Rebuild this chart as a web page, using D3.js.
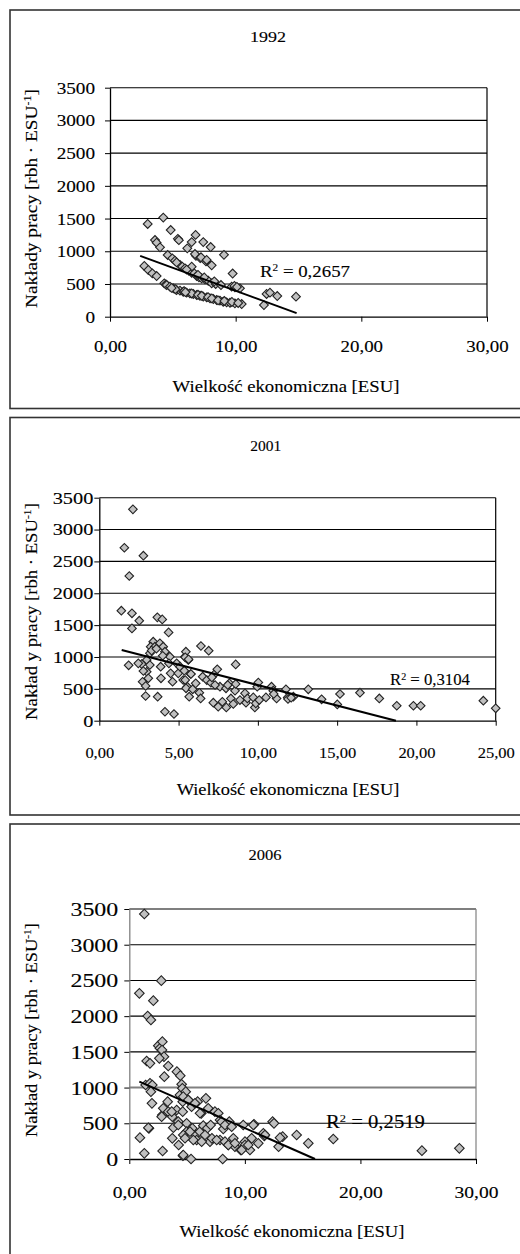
<!DOCTYPE html>
<html>
<head>
<meta charset="utf-8">
<script src="https://cdn.jsdelivr.net/npm/d3@7"></script>
<style>
  body { margin: 0; background: #fff; }
  svg text { font-family: "Times New Roman", "Liberation Serif", "DejaVu Serif", serif; fill: #000; stroke: #000; stroke-width: 0.12px; }
</style>
</head>
<body>
<div id="chart"></div>
<script>
// ---- data ----
var years = ["1992", "2001", "2006"];
var r2Values = ["0,2657", "0,3104", "0,2519"];
var yTicks = [0, 500, 1000, 1500, 2000, 2500, 3000, 3500];
var xTicks1992 = [0, 10, 20, 30];
var xTicks2001 = [0, 5, 10, 15, 20, 25];
var xTicks2006 = [0, 10, 20, 30];

var pts1992 = [
  [3.0,1417],[4.24,1515],[4.83,1325],[5.40,1190],[5.48,1170],[6.15,1045],[6.50,1140],[6.81,1250],
  [7.42,1140],[8.01,1065],[9.07,945],[9.76,660],[6.84,930],[7.18,895],[7.64,845],[8.09,785],
  [6.76,958],[7.24,908],[7.69,867],
  [3.58,1172],[3.71,1131],[3.98,1060],[4.59,943],[4.96,892],[5.17,856],[5.57,790],[5.75,764],
  [5.97,739],[6.28,703],[6.5,672],[6.71,663],[6.9,622],[7.08,602],[7.29,587],[7.56,571],[7.82,550],
  [8.09,510],[8.41,500],[8.83,484],[9.68,459],[9.94,449],[10.34,434],[6.5,764],[5.3,830],[6.1,720],
  [7.0,640],[7.5,600],[8.3,540],[9.9,470],[10.1,455],
  [2.73,775],[3.05,714],[3.37,663],[3.71,622],[4.32,510],[4.45,495],[4.51,484],[4.77,459],[5.04,434],
  [5.3,408],[5.57,398],[5.83,382],[6.1,367],[6.36,357],[6.63,347],[6.9,332],[7.16,321],[7.42,306],
  [7.69,296],[7.96,281],[8.22,270],[8.49,255],[8.75,245],[9.01,229],[9.28,220],[9.55,214],[9.94,204],
  [10.48,194],[5.2,420],[5.9,390],[6.5,355],[7.0,335],[7.3,320],[7.8,300],[8.1,280],[8.6,250],
  [9.1,240],[9.7,225],[10.2,210],[4.9,440],[6.0,375],
  [12.25,178],[12.46,347],[12.73,367],[13.31,316],[14.8,306]
];
var trend1992 = [[2.4,930],[14.85,55]];

var pts2001 = [
  [2.12,3317],[1.58,2715],[2.78,2590],[1.89,2271],[1.39,1727],[2.06,1685],[2.06,1449],[2.52,1570],
  [3.66,1622],[3.97,1590],[4.37,1386],[1.85,869],
  [3.40,1240],[3.24,1162],[3.51,1162],[3.82,1215],[4.03,1162],[4.14,1083],[3.19,1058],[2.99,953],
  [2.67,890],[2.46,900],[3.19,874],[2.99,769],[2.73,612],[3.09,665],[2.92,388],[3.68,377],[3.87,848],
  [3.89,665],[4.45,1005],[4.39,900],[4.5,743],[4.62,612],[4.88,900],[4.98,743],[5.09,848],[5.4,1005],
  [5.46,1083],[5.61,953],[5.29,639],[5.55,534],[5.67,377],[5.76,733],
  [2.92,544],[2.78,780],[3.3,1100],[3.6,1130],[4.14,141],[4.71,105],[4.0,1020],
  [5.42,994],[5.63,963],[5.36,785],[5.78,733],[5.42,638],[5.47,508],[5.89,492],[6.41,1172],[6.9,1099],
  [6.08,586],[6.31,439],[6.39,350],[6.52,691],[6.78,638],[7.04,596],[7.25,727],[7.44,806],[7.19,283],
  [7.5,220],[7.61,534],[7.76,298],[8.01,209],[7.99,508],[8.2,586],[8.3,350],[8.45,262],[8.56,471],
  [8.6,576],[8.6,884],[8.87,324],[9.19,429],[9.25,283],[9.34,350],[9.71,366],[9.81,209],[9.87,272],
  [9.96,534],[10.03,600],[10.09,324],[10.51,366],[10.86,534],[10.97,471],[11.18,350],[11.77,492],
  [11.88,366],[12.24,377],[13.18,492],[14.02,335],[15.01,256],[15.18,419],[16.44,440],[17.66,350],
  [18.76,235],[19.81,235],[20.27,235],[24.22,314],[25.0,194],
  [7.1,680],[7.3,560],[8.1,560],[11.0,420],[11.9,340],[12.1,360]
];
var trend2001 = [[1.41,1109],[18.71,0]];

var pts2006 = [
  [1.30,3430],[0.87,2319],[2.77,2497],[2.08,2217],[1.59,2002],[1.87,1946],[2.51,1587],[2.65,1549],
  [2.86,1643],[2.83,1526],[3.0,1433],[2.6,1409],[1.5,1372],[1.79,1339],[3.37,1302],[4.12,1223],
  [4.41,1167],[4.53,1045],[3.03,1153],[1.41,1036],[1.79,1059],[1.99,1036],[1.87,943],[1.96,779],
  [0.92,299],[1.30,79],[1.70,429],[2.88,112],[2.86,616],[2.94,709],[3.32,803],[3.37,663],[3.72,593],
  [3.81,439],[3.72,289],[4.1,686],[4.24,523],[4.27,196],[4.38,896],[4.59,989],[4.62,803],[4.62,663],
  [4.64,47],[4.88,943],[4.96,499],[4.96,383],[5.11,826],[5.34,0],[5.39,733],[5.45,429],[5.74,336],
  [5.83,266],[5.91,803],[6.11,383],[6.23,639],[6.4,467],[6.63,849],[6.75,429],[6.98,243],[7.15,289],
  [7.04,476],[7.41,663],[7.7,640],[7.85,546],[7.85,266],[8.08,0],[8.13,420],[8.28,243],[8.65,523],
  [8.57,196],[9.0,289],[9.14,173],[9.63,126],[9.86,476],[10.01,243],[10.01,196],[10.44,126],[10.59,289],
  [10.79,485],[11.16,219],[11.6,359],[11.68,322],[12.4,523],[12.52,499],[12.92,173],[13.27,313],
  [14.48,336],[15.49,219],[17.65,280],[25.32,117],[28.56,149],
  [1.65,438],[4.67,873],[5.1,826],[5.68,780],[6.12,640],[6.83,710],[7.99,523],[8.28,476],[8.86,453],
  [10.73,476],[13.04,299],[3.67,663],[2.8,593],[4.24,476],[4.67,336],[4.82,290],[5.25,383],[5.54,266],
  [6.26,243],[6.55,336],[7.56,266],[8.56,196],[9.14,220],[9.72,126],[10.29,196],[11.74,336],[4.67,56]
];
var trend2006 = [[0.87,1083],[16.07,0]];

// ---- layout ----
var W = 520, H = 1254;
var panels = [
  { year: years[0], r2: r2Values[0], pts: pts1992, trend: trend1992, xTicks: xTicks1992, xMax: 30,
    frame: [10, 408.5], l: 110, r: 487, t: 87.7, b: 316.7, mark: 4.4,
    title: [268, 41.7, 15, 36], xTitle: [286, 391.7, 16, 227], yTitle: [37, 198.5, 17, 219, "Nakłady pracy [rbh · ESU"],
    r2Pos: [260, 276.7, 17, 90], xLab: [35, 16, 1.18], yLab: [15, 16, 1.2],
    gridCol: "#000", axisCol: "#000", rightCol: "#000", grayGrid: -1 },
  { year: years[1], r2: r2Values[1], pts: pts2001, trend: trend2001, xTicks: xTicks2001, xMax: 25,
    frame: [417.5, 815], l: 99.3, r: 495.7, t: 497.7, b: 720.7, mark: 4.3,
    title: [265.7, 450.7, 15, 31], xTitle: [288, 795, 16, 223], yTitle: [37, 611.5, 17, 217, "Nakład y pracy [rbh · ESU"],
    r2Pos: [390, 685, 16, 80], xLab: [37, 15, 1.1], yLab: [6, 16, 1.27],
    gridCol: "#000", axisCol: "#000", rightCol: "#000", grayGrid: -1 },
  { year: years[2], r2: r2Values[2], pts: pts2006, trend: trend2006, xTicks: xTicks2006, xMax: 30,
    frame: [824, 1300], l: 129.3, r: 476, t: 909, b: 1159, mark: 4.8,
    title: [265, 860, 15, 33], xTitle: [292, 1236.7, 16, 225], yTitle: [37, 1030, 17, 214, "Nakład y pracy [rbh · ESU"],
    r2Pos: [326, 1128.3, 19, 99], xLab: [39, 16, 1.22], yLab: [11, 19, 1.26],
    gridCol: "#000", axisCol: "#808080", rightCol: "#808080", grayGrid: 1000 }
];

var svg = d3.select("#chart").append("svg").attr("width", W).attr("height", H);

var fmtX = function (d) { return d.toFixed(2).replace(".", ","); };
var fmtY = d3.format("d");

// stretch a text horizontally so its width matches the picture
function fit(t, x, y, size, w, rot) {
  t.style("font-size", size + "px");
  var n = t.node().getComputedTextLength();
  var sx = w / n;
  t.attr("transform", "translate(" + x + "," + y + ")" + (rot ? " rotate(" + rot + ")" : "") + " scale(" + sx + ",1)");
  return t;
}

panels.forEach(function (p) {
  var g = svg.append("g");

  g.append("rect")
    .attr("x", 10).attr("y", p.frame[0])
    .attr("width", 560).attr("height", p.frame[1] - p.frame[0])
    .attr("fill", "none").attr("stroke", "#333").attr("stroke-width", 1.6);

  var x = d3.scaleLinear().domain([0, p.xMax]).range([p.l, p.r]);
  var y = d3.scaleLinear().domain([0, 3500]).range([p.b, p.t]);

  // gridlines
  g.selectAll(".grid").data(yTicks.filter(function (d) { return d > 0; })).enter()
    .append("line")
    .attr("x1", p.l).attr("x2", p.r)
    .attr("y1", function (d) { return y(d); }).attr("y2", function (d) { return y(d); })
    .attr("stroke", function (d) { return d === p.grayGrid ? "#808080" : p.gridCol; })
    .attr("stroke-width", function (d) { return d === p.grayGrid ? 2 : 1.1; });

  g.append("line")
    .attr("x1", p.r).attr("x2", p.r).attr("y1", p.t).attr("y2", p.b)
    .attr("stroke", p.rightCol).attr("stroke-width", 1.2);

  // x axis
  var xa = g.append("g").attr("transform", "translate(0," + p.b + ")")
    .call(d3.axisBottom(x).tickValues(p.xTicks).tickSize(5).tickSizeOuter(0).tickFormat(fmtX));
  xa.attr("font-family", null).attr("font-size", null);
  xa.select(".domain").attr("stroke", "#000").attr("stroke-width", 1.3);
  xa.selectAll("line").attr("stroke", "#000");
  xa.selectAll("text")
    .attr("y", 0).attr("dy", 0)
    .style("font-size", p.xLab[1] + "px")
    .attr("transform", "translate(0," + p.xLab[0] + ") scale(" + p.xLab[2] + ",1)");

  // y axis
  var ya = g.append("g").attr("transform", "translate(" + p.l + ",0)")
    .call(d3.axisLeft(y).tickValues(yTicks).tickSize(5).tickSizeOuter(0).tickFormat(fmtY));
  ya.attr("font-family", null).attr("font-size", null);
  ya.select(".domain").attr("stroke", p.axisCol).attr("stroke-width", 1.3);
  ya.selectAll("line").attr("stroke", "#000");
  ya.selectAll("text")
    .attr("x", 0).attr("dy", "0.34em")
    .style("font-size", p.yLab[1] + "px")
    .attr("transform", "translate(" + (-p.yLab[0]) + ",0) scale(" + p.yLab[2] + ",1)");

  // points
  var diamond = d3.symbol().type(d3.symbolSquare).size(2 * p.mark * p.mark);
  g.append("g").selectAll("path").data(p.pts).enter()
    .append("path")
    .attr("d", diamond)
    .attr("transform", function (d) { return "translate(" + x(d[0]) + "," + y(d[1]) + ") rotate(45)"; })
    .attr("fill", "#c0c0c0")
    .attr("stroke", "#222")
    .attr("stroke-width", 1.1);

  // trend line
  g.append("path").datum(p.trend)
    .attr("d", d3.line().x(function (d) { return x(d[0]); }).y(function (d) { return y(d[1]); }))
    .attr("fill", "none").attr("stroke", "#000").attr("stroke-width", 2);

  // texts
  fit(g.append("text").attr("text-anchor", "middle").text(p.year), p.title[0], p.title[1], p.title[2], p.title[3]);
  fit(g.append("text").attr("text-anchor", "middle").text("Wielkość ekonomiczna [ESU]"),
    p.xTitle[0], p.xTitle[1], p.xTitle[2], p.xTitle[3]);

  var yt = g.append("text").attr("text-anchor", "middle");
  yt.append("tspan").text(p.yTitle[4]);
  yt.append("tspan").attr("dy", "-0.55em").style("font-size", "0.62em").text("-1");
  yt.append("tspan").attr("dy", "0.34em").text("]");
  fit(yt, p.yTitle[0], p.yTitle[1], p.yTitle[2], p.yTitle[3], -90);

  var rt = g.append("text").attr("text-anchor", "start");
  rt.append("tspan").text("R");
  rt.append("tspan").attr("dy", "-0.55em").style("font-size", "0.6em").text("2");
  rt.append("tspan").attr("dy", "0.33em").text(" = " + p.r2);
  fit(rt, p.r2Pos[0], p.r2Pos[1], p.r2Pos[2], p.r2Pos[3]);
});
</script>
</body>
</html>
